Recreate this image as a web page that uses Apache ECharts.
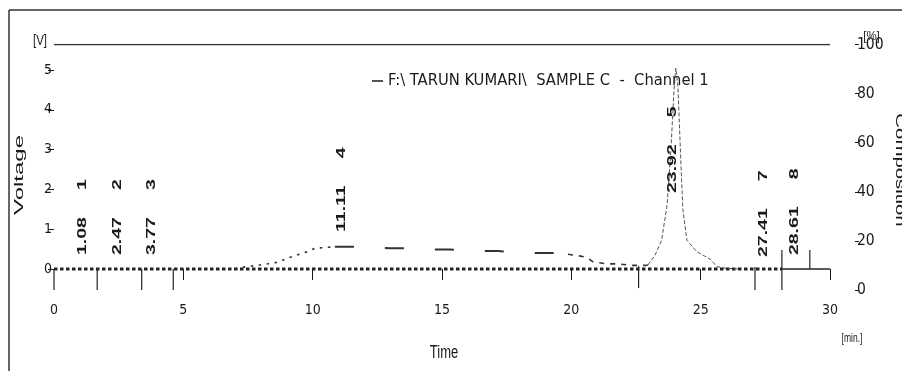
<!DOCTYPE html>
<html><head><meta charset="utf-8">
<script src="https://cdn.jsdelivr.net/npm/echarts@6/dist/echarts.min.js"></script>
<style>html,body{margin:0;padding:0;background:#fff}#c{width:902px;height:371px}</style>
</head><body><div id="c"></div>
<script>
// ---- data ----
const timeTicks = [0, 5, 10, 15, 20, 25, 30];
const voltTicks = [0, 1, 2, 3, 4, 5];
const compTicks = [0, 20, 40, 60, 80, 100];
const seriesName = 'F:\\ TARUN KUMARI\\  SAMPLE C  -  Channel 1';

// detector signal [time min, voltage V]
const signal = [
  [7.0,0.00],[7.11,0.03],[7.85,0.09],[8.27,0.13],[8.66,0.17],[9.05,0.28],[9.43,0.36],[9.78,0.43],
  [10.09,0.52],[10.86,0.56],[11.56,0.56],[12.3,0.54],[12.99,0.52],[13.76,0.52],[14.61,0.49],
  [15.31,0.49],[16.35,0.45],[17.16,0.45],[18.0,0.42],[18.67,0.40],[19.48,0.40],[19.87,0.37],
  [20.3,0.33],[20.6,0.29],[20.84,0.18],[21.38,0.13],[21.8,0.13],[22.38,0.09],[22.85,0.09],
  [22.96,0.10],[23.23,0.34],[23.49,0.72],[23.7,1.60],[23.85,3.00],[23.97,4.50],[24.04,5.05],
  [24.12,4.60],[24.24,2.60],[24.31,1.50],[24.47,0.72],[24.86,0.43],[25.36,0.25],[25.63,0.06],
  [25.94,0.02],[26.5,0.00]
];
const baselineDotted = [[0, 0], [28.14, 0]];
const baselineSolid = [[28.14, 0], [30, 0]];
const composition = [[0, 100], [30, 100]];

const peakTimes = [1.08, 2.47, 3.77, 11.11, 23.92, 27.41, 28.61];
const peakNumbers = [1, 2, 3, 4, 5, 7, 8];
const peakLabelBase = [0.35, 0.35, 0.35, 0.93, 1.91, 0.30, 0.35];

const boundaryTimes = [0, 1.67, 3.39, 4.61, 22.6, 27.1, 28.14, 29.22];
const boundaryLow  = [-0.53, -0.53, -0.53, -0.53, -0.48, -0.53, -0.53, 0];
const boundaryHigh = [0, 0, 0, 0, 0.08, 0.05, 0.48, 0.48];

// ---- chart ----
const NARROW = "'Liberation Sans Narrow','DejaVu Sans Condensed','Liberation Sans',sans-serif";
const SANS = "'Liberation Sans',Arial,sans-serif";
const INK = '#1a1a1a';

function seg(a, b) { return signal.filter(p => p[0] >= a && p[0] <= b); }
function sigSeries(a, b, type, width, color) {
  return { name: seriesName, type: 'line', data: seg(a, b), showSymbol: false, silent: true,
    lineStyle: { type: type, width: width, color: color }, itemStyle: { color: INK }, z: 3 };
}

const chart = echarts.init(document.getElementById('c'), null, { renderer: 'canvas' });
chart.setOption({
  animation: false,
  backgroundColor: '#fff',
  grid: { left: 54, right: 72, top: 44.5, bottom: 81 },
  legend: {
    left: 367, top: 68, icon: 'rect', itemWidth: 11, itemHeight: 1.5,
    data: [seriesName], selectedMode: false,
    itemStyle: { color: INK },
    textStyle: { fontFamily: NARROW, fontSize: 16.4, color: INK }
  },
  xAxis: {
    type: 'value', min: 0, max: 30, interval: 5,
    axisLine: { show: false },
    axisTick: { show: true, length: 11, customValues: timeTicks.slice(1), lineStyle: { color: INK, width: 1 } },
    axisLabel: { margin: 13, fontFamily: NARROW, fontSize: 14, color: INK },
    splitLine: { show: false }
  },
  yAxis: [
    { type: 'value', min: -0.5276, max: 5.6407, position: 'left',
      axisLine: { show: false },
      axisTick: { show: true, length: 6, customValues: voltTicks, lineStyle: { color: INK } },
      axisLabel: { margin: 2, customValues: voltTicks, fontFamily: NARROW, fontSize: 14, color: INK },
      splitLine: { show: false } },
    { type: 'value', min: 0, max: 100, interval: 20, position: 'right', offset: 25,
      axisLine: { show: false },
      axisTick: { show: true, length: 4, customValues: compTicks, lineStyle: { color: INK } },
      axisLabel: { margin: 2, customValues: compTicks, fontFamily: NARROW, fontSize: 15.5, color: INK },
      splitLine: { show: false } }
  ],
  series: [
    { name: 'Composition', type: 'line', yAxisIndex: 1, data: composition, showSymbol: false, silent: true,
      lineStyle: { color: '#333', width: 1.5 }, z: 2 },
    { name: 'baseline', type: 'line', data: baselineDotted, showSymbol: false, silent: true,
      lineStyle: { color: '#222', width: 3, type: [3.5, 2.5] }, z: 2 },
    { name: 'baseline2', type: 'line', data: baselineSolid, showSymbol: false, silent: true,
      lineStyle: { color: '#222', width: 1.3 }, z: 2 },
    sigSeries(7.0, 10.86, [2.5, 5.5], 1.6, '#333'),
    sigSeries(10.86, 19.87, [19, 31], 2, '#333'),
    sigSeries(19.87, 22.96, [5, 6], 1.6, '#333'),
    sigSeries(22.96, 26.5, [4, 2], 1, '#555'),
    { name: 'boundaries', type: 'custom', coordinateSystem: 'cartesian2d', silent: true, clip: false,
      data: boundaryTimes.map((t, i) => [t, boundaryLow[i], boundaryHigh[i]]),
      encode: { x: 0, y: [1, 2] },
      renderItem: function (params, api) {
        const t = api.value(0);
        const a = api.coord([t, api.value(1)]);
        const b = api.coord([t, api.value(2)]);
        return { type: 'line', shape: { x1: a[0], y1: a[1], x2: b[0], y2: b[1] },
          style: { stroke: '#222', lineWidth: 1.2 } };
      }, z: 4 },
    { name: 'peaks', type: 'custom', coordinateSystem: 'cartesian2d', silent: true, clip: false,
      data: peakTimes.map((t, i) => [t, peakLabelBase[i]]),
      encode: { x: 0, y: 1 },
      renderItem: function (params, api) {
        const i = params.dataIndex;
        const p = api.coord([api.value(0), api.value(1)]);
        const f = { fontFamily: SANS, fontWeight: 'bold', fontSize: 13, fill: INK };
        return { type: 'text', x: p[0], y: p[1], rotation: Math.PI / 2, scaleX: 1.5,
          style: { text: '{a|' + peakTimes[i].toFixed(2) + '}{g| }{b|' + peakNumbers[i] + '}',
            rich: { a: f, g: { width: 18, fontSize: 13 }, b: f },
            align: 'left', verticalAlign: 'middle', fill: INK } };
      }, z: 5 }
  ],
  graphic: [
    { type: 'line', shape: { x1: 9, y1: 10, x2: 902, y2: 10 }, style: { stroke: '#333', lineWidth: 1.5 }, silent: true },
    { type: 'line', shape: { x1: 9, y1: 10, x2: 9, y2: 371 }, style: { stroke: '#333', lineWidth: 1.5 }, silent: true },
    { type: 'text', x: 40, y: 41.5, scaleY: 1.2,
      style: { text: '[V]', font: '11.5px ' + SANS, fill: INK, align: 'center', verticalAlign: 'middle' } },
    { type: 'text', x: 19.5, y: 175, rotation: Math.PI / 2, scaleX: 2.0,
      style: { text: 'Voltage', font: '12px ' + SANS, fill: INK, align: 'center', verticalAlign: 'middle' } },
    { type: 'text', x: 899, y: 170, rotation: -Math.PI / 2, scaleX: 1.7,
      style: { text: 'Composition', font: '12px ' + SANS, fill: INK, align: 'center', verticalAlign: 'middle' } },
    { type: 'text', x: 444, y: 352.5, scaleY: 1.4,
      style: { text: 'Time', font: '13px ' + SANS, fill: INK, align: 'center', verticalAlign: 'middle' } },
    { type: 'text', x: 852, y: 338.5, scaleY: 1.6,
      style: { text: '[min.]', font: '8.5px ' + SANS, fill: INK, align: 'center', verticalAlign: 'middle' } },
    { type: 'text', x: 871.5, y: 36.5, scaleY: 1.15,
      style: { text: '[%]', font: '11.5px ' + SANS, fill: INK, align: 'center', verticalAlign: 'middle' } }
  ]
});
</script></body></html>
